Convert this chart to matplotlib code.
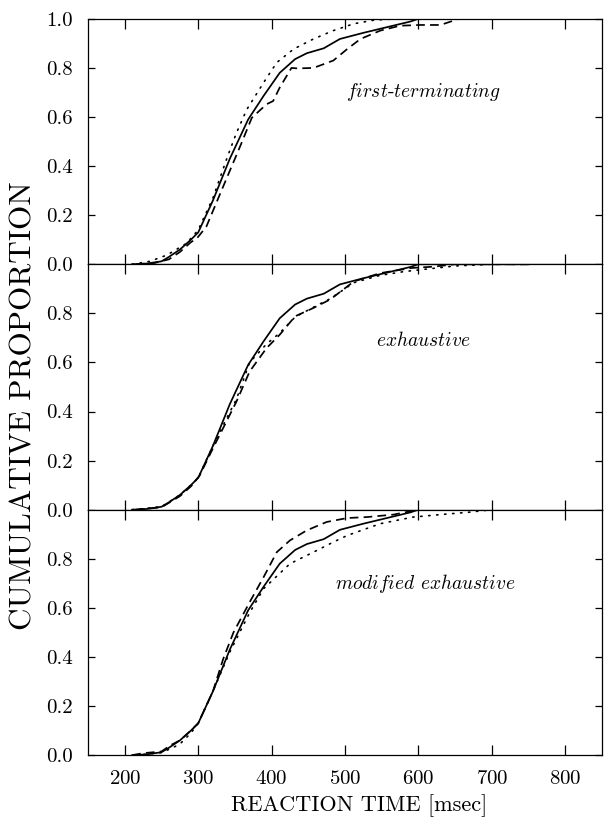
import matplotlib as mpl

mpl.use("Agg")
import matplotlib.pyplot as plt
from matplotlib.ticker import FormatStrFormatter

# observed CDF (solid), shared by all three panels
RT_OBS = [210, 230, 250, 260, 275, 290, 300, 320, 343, 368, 389, 411, 432, 448, 471, 493, 525, 557, 589, 600, 650, 750]
P_OBS = [0.0, 0.003, 0.012, 0.03, 0.06, 0.10, 0.13, 0.26, 0.43, 0.59, 0.686, 0.78, 0.836, 0.86, 0.88, 0.918, 0.943, 0.966, 0.989, 1.0, 1.0, 1.0]

# first-terminating
FT_DASH_RT = [215, 240, 260, 275, 290, 298, 311, 334, 357, 373, 393, 402, 411, 427, 435, 457, 484, 503, 521, 548, 575, 602, 630, 655, 750]
FT_DASH_P = [0.0, 0.005, 0.02, 0.05, 0.09, 0.105, 0.153, 0.317, 0.48, 0.597, 0.652, 0.665, 0.72, 0.80, 0.798, 0.80, 0.83, 0.877, 0.918, 0.952, 0.972, 0.975, 0.975, 1.0, 1.0]
FT_DOT_RT = [210, 234, 257, 284, 300, 320, 340, 352, 366, 389, 407, 430, 457, 484, 512, 540, 570, 750]
FT_DOT_P = [0.0, 0.012, 0.037, 0.085, 0.14, 0.27, 0.44, 0.535, 0.63, 0.74, 0.822, 0.877, 0.918, 0.952, 0.98, 0.995, 1.0, 1.0]

# exhaustive
EX_DASH_RT = [215, 250, 275, 290, 302, 320, 352, 370, 393, 411, 432, 457, 480, 512, 548, 591, 620, 650, 750]
EX_DASH_P = [0.0, 0.01, 0.055, 0.095, 0.14, 0.25, 0.44, 0.563, 0.658, 0.713, 0.788, 0.822, 0.857, 0.93, 0.964, 0.985, 0.99, 1.0, 1.0]
EX_DOT_RT = [210, 250, 275, 290, 300, 320, 340, 352, 370, 393, 411, 432, 457, 480, 512, 548, 580, 610, 650, 700, 750]
EX_DOT_P = [0.0, 0.012, 0.06, 0.10, 0.13, 0.26, 0.38, 0.45, 0.60, 0.675, 0.72, 0.785, 0.825, 0.86, 0.925, 0.955, 0.97, 0.98, 0.993, 1.0, 1.0]

# modified exhaustive
ME_DASH_RT = [210, 225, 240, 250, 262, 275, 290, 300, 320, 334, 348, 370, 389, 407, 425, 448, 475, 503, 530, 566, 600, 750]
ME_DASH_P = [0.0, 0.008, 0.012, 0.015, 0.04, 0.06, 0.10, 0.13, 0.26, 0.392, 0.50, 0.623, 0.725, 0.827, 0.875, 0.916, 0.95, 0.966, 0.97, 0.98, 1.0, 1.0]
ME_DOT_RT = [215, 250, 265, 275, 290, 300, 320, 343, 370, 389, 425, 457, 484, 503, 548, 593, 630, 670, 700, 750]
ME_DOT_P = [0.0, 0.01, 0.03, 0.045, 0.09, 0.13, 0.26, 0.42, 0.58, 0.678, 0.78, 0.827, 0.868, 0.895, 0.943, 0.97, 0.98, 0.99, 1.0, 1.0]

PANELS = [
    (r"$\mathit{first}$-$\mathit{terminating}$", 501, 0.70, FT_DASH_RT, FT_DASH_P, FT_DOT_RT, FT_DOT_P),
    (r"$\mathit{exhaustive}$", 542, 0.69, EX_DASH_RT, EX_DASH_P, EX_DOT_RT, EX_DOT_P),
    (r"$\mathit{modified}$ $\mathit{exhaustive}$", 487, 0.70, ME_DASH_RT, ME_DASH_P, ME_DOT_RT, ME_DOT_P),
]
X_TICKS = [200, 300, 400, 500, 600, 700, 800]

mpl.rcParams.update(
    {
        "font.family": "cmr10",
        "mathtext.fontset": "cm",
        "axes.formatter.use_mathtext": True,
        "font.size": 15,
        "axes.linewidth": 0.9,
        "xtick.direction": "in",
        "ytick.direction": "in",
    }
)

fig, axes = plt.subplots(3, 1, figsize=(6.08, 8.19), dpi=100, sharex=True)
fig.subplots_adjust(left=0.145, right=0.990, top=0.977, bottom=0.078, hspace=0)

for i, (ax, (label, lx, ly, drt, dp, ort, op)) in enumerate(zip(axes, PANELS)):
    ax.plot(RT_OBS, P_OBS, color="black", lw=1.25, ls="-")
    ax.plot(drt, dp, color="black", lw=1.25, ls=(0, (5, 3)))
    ax.plot(ort, op, color="black", lw=1.2, ls=(0, (0.8, 4)), dash_capstyle="round")
    ax.text(lx, ly, label, fontsize=14, ha="left", va="center")
    ax.set_xlim(150, 850)
    ax.set_ylim(0, 1.0)
    ax.set_xticks(X_TICKS)
    if i == 0:
        ax.set_yticks([0.0, 0.2, 0.4, 0.6, 0.8, 1.0])
    else:
        ax.set_yticks([0.0, 0.2, 0.4, 0.6, 0.8])
    ax.yaxis.set_major_formatter(FormatStrFormatter("%.1f"))
    ax.tick_params(axis="x", which="major", top=True, bottom=True, length=7, width=0.9, labelsize=15, pad=11)
    ax.tick_params(axis="y", which="major", left=True, right=True, length=5, width=0.9, labelsize=15, pad=11)
    ax.minorticks_off()

axes[2].set_xlabel("REACTION TIME [msec]", fontsize=16, labelpad=4, x=0.527)
fig.text(0.039, 0.505, "CUMULATIVE PROPORTION", rotation=90, ha="center", va="center", fontsize=22.5)

fig.savefig("out.png", dpi=100)
